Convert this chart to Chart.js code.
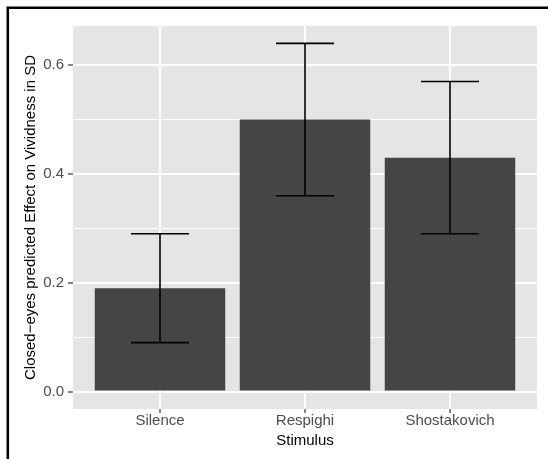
<!DOCTYPE html>
<html>
<head>
<meta charset="utf-8">
<script src="https://cdn.jsdelivr.net/npm/chart.js@4/dist/chart.umd.min.js"></script>
<style>
  html, body { margin: 0; padding: 0; background: #ffffff; }
  canvas { display: block; }
</style>
</head>
<body>
<canvas id="c" width="548" height="459"></canvas>
<script>
// ---- data ----
const categories = ["Silence", "Respighi", "Shostakovich"];
const effectValues = [0.19, 0.50, 0.43];
const lowerCI = [0.09, 0.36, 0.29];
const upperCI = [0.29, 0.64, 0.57];
const yMajorTicks = [0, 0.2, 0.4, 0.6];
const yMajorLabels = ["0.0", "0.2", "0.4", "0.6"];
const yMinorTicks = [0.1, 0.3, 0.5];
const xTitle = "Stimulus";
const yTitle = "Closed\u2212eyes predicted Effect on Vividness in SD";

const FONT = '"Liberation Sans", Arial, Helvetica, sans-serif';
const PANEL_BG = '#E5E5E5';
const BAR_COLOR = '#454545';

const isMajor = v => yMajorTicks.some(t => Math.abs(t - v) < 1e-9);

const panelBg = {
  id: 'panelBg',
  beforeDraw(chart) {
    const {ctx, chartArea: a} = chart;
    ctx.save();
    ctx.fillStyle = PANEL_BG;
    ctx.fillRect(a.left, a.top, a.right - a.left, a.bottom - a.top);
    ctx.restore();
  }
};

const errorBars = {
  id: 'errorBars',
  afterDatasetsDraw(chart) {
    const {ctx, scales: {x, y}} = chart;
    ctx.save();
    ctx.strokeStyle = '#000000';
    ctx.lineWidth = 1.6;
    categories.forEach((c, i) => {
      const cx = x.getPixelForValue(i + 1);
      const x0 = x.getPixelForValue(i + 1 - 0.2);
      const x1 = x.getPixelForValue(i + 1 + 0.2);
      const yl = y.getPixelForValue(lowerCI[i]);
      const yh = y.getPixelForValue(upperCI[i]);
      ctx.beginPath();
      ctx.moveTo(cx, yl); ctx.lineTo(cx, yh);
      ctx.moveTo(x0, yh); ctx.lineTo(x1, yh);
      ctx.moveTo(x0, yl); ctx.lineTo(x1, yl);
      ctx.stroke();
    });
    ctx.restore();
  }
};

const frame = {
  id: 'frame',
  afterDraw(chart) {
    const {ctx} = chart;
    ctx.save();
    ctx.strokeStyle = '#000000';
    ctx.lineWidth = 2.6;
    ctx.beginPath();
    ctx.moveTo(7.8, 459); ctx.lineTo(7.8, 7.8); ctx.lineTo(548, 7.8);
    ctx.stroke();
    ctx.restore();
  }
};

new Chart(document.getElementById('c'), {
  type: 'bar',
  data: {
    datasets: [{
      data: categories.map((c, i) => ({x: i + 1, y: effectValues[i]})),
      backgroundColor: BAR_COLOR,
      borderWidth: 0,
      barPercentage: 0.9,
      categoryPercentage: 1.0
    }]
  },
  options: {
    responsive: false,
    animation: false,
    devicePixelRatio: 1,
    layout: { padding: { top: 26, right: 11, left: 0, bottom: 0 } },
    plugins: { legend: { display: false }, tooltip: { enabled: false } },
    scales: {
      x: {
        type: 'linear',
        min: 0.4,
        max: 3.6,
        offset: false,
        afterBuildTicks(scale) {
          scale.ticks = categories.map((c, i) => ({value: i + 1}));
        },
        afterFit(scale) { scale.height = 50; },
        border: { display: false },
        grid: {
          offset: false,
          color: '#FFFFFF',
          lineWidth: 2,
          drawTicks: true,
          tickLength: 4,
          tickColor: '#333333',
          tickWidth: 1.2
        },
        ticks: {
          callback: (v) => categories[Math.round(v) - 1],
          color: '#4D4D4D',
          font: { family: FONT, size: 15, lineHeight: 1 },
          padding: 0,
          maxRotation: 0,
          autoSkip: false
        },
        title: {
          display: true,
          text: xTitle,
          color: '#000000',
          font: { family: FONT, size: 15, lineHeight: 1.2 },
          padding: { top: 0, bottom: 9.5 }
        }
      },
      y: {
        type: 'linear',
        min: -0.032,
        max: 0.672,
        afterBuildTicks(scale) {
          scale.ticks = [...yMajorTicks, ...yMinorTicks].sort((a, b) => a - b).map(v => ({value: v}));
        },
        afterFit(scale) { scale.width = 73; },
        border: { display: false },
        grid: {
          color: '#FFFFFF',
          lineWidth: (ctx) => (ctx.tick && isMajor(ctx.tick.value)) ? 2 : 1,
          drawTicks: true,
          tickLength: 5,
          tickColor: (ctx) => (ctx.tick && isMajor(ctx.tick.value)) ? '#333333' : 'rgba(0,0,0,0)',
          tickWidth: 1.2
        },
        ticks: {
          callback: (v) => {
            const k = yMajorTicks.findIndex(t => Math.abs(t - v) < 1e-9);
            return k >= 0 ? yMajorLabels[k] : '';
          },
          color: '#4D4D4D',
          font: { family: FONT, size: 15, lineHeight: 1 },
          padding: 4,
          autoSkip: false
        },
        title: {
          display: true,
          text: yTitle,
          color: '#000000',
          font: { family: FONT, size: 15, lineHeight: 1.2 },
          padding: { top: 22, bottom: 0 }
        }
      }
    }
  },
  plugins: [panelBg, errorBars, frame]
});
</script>
</body>
</html>
